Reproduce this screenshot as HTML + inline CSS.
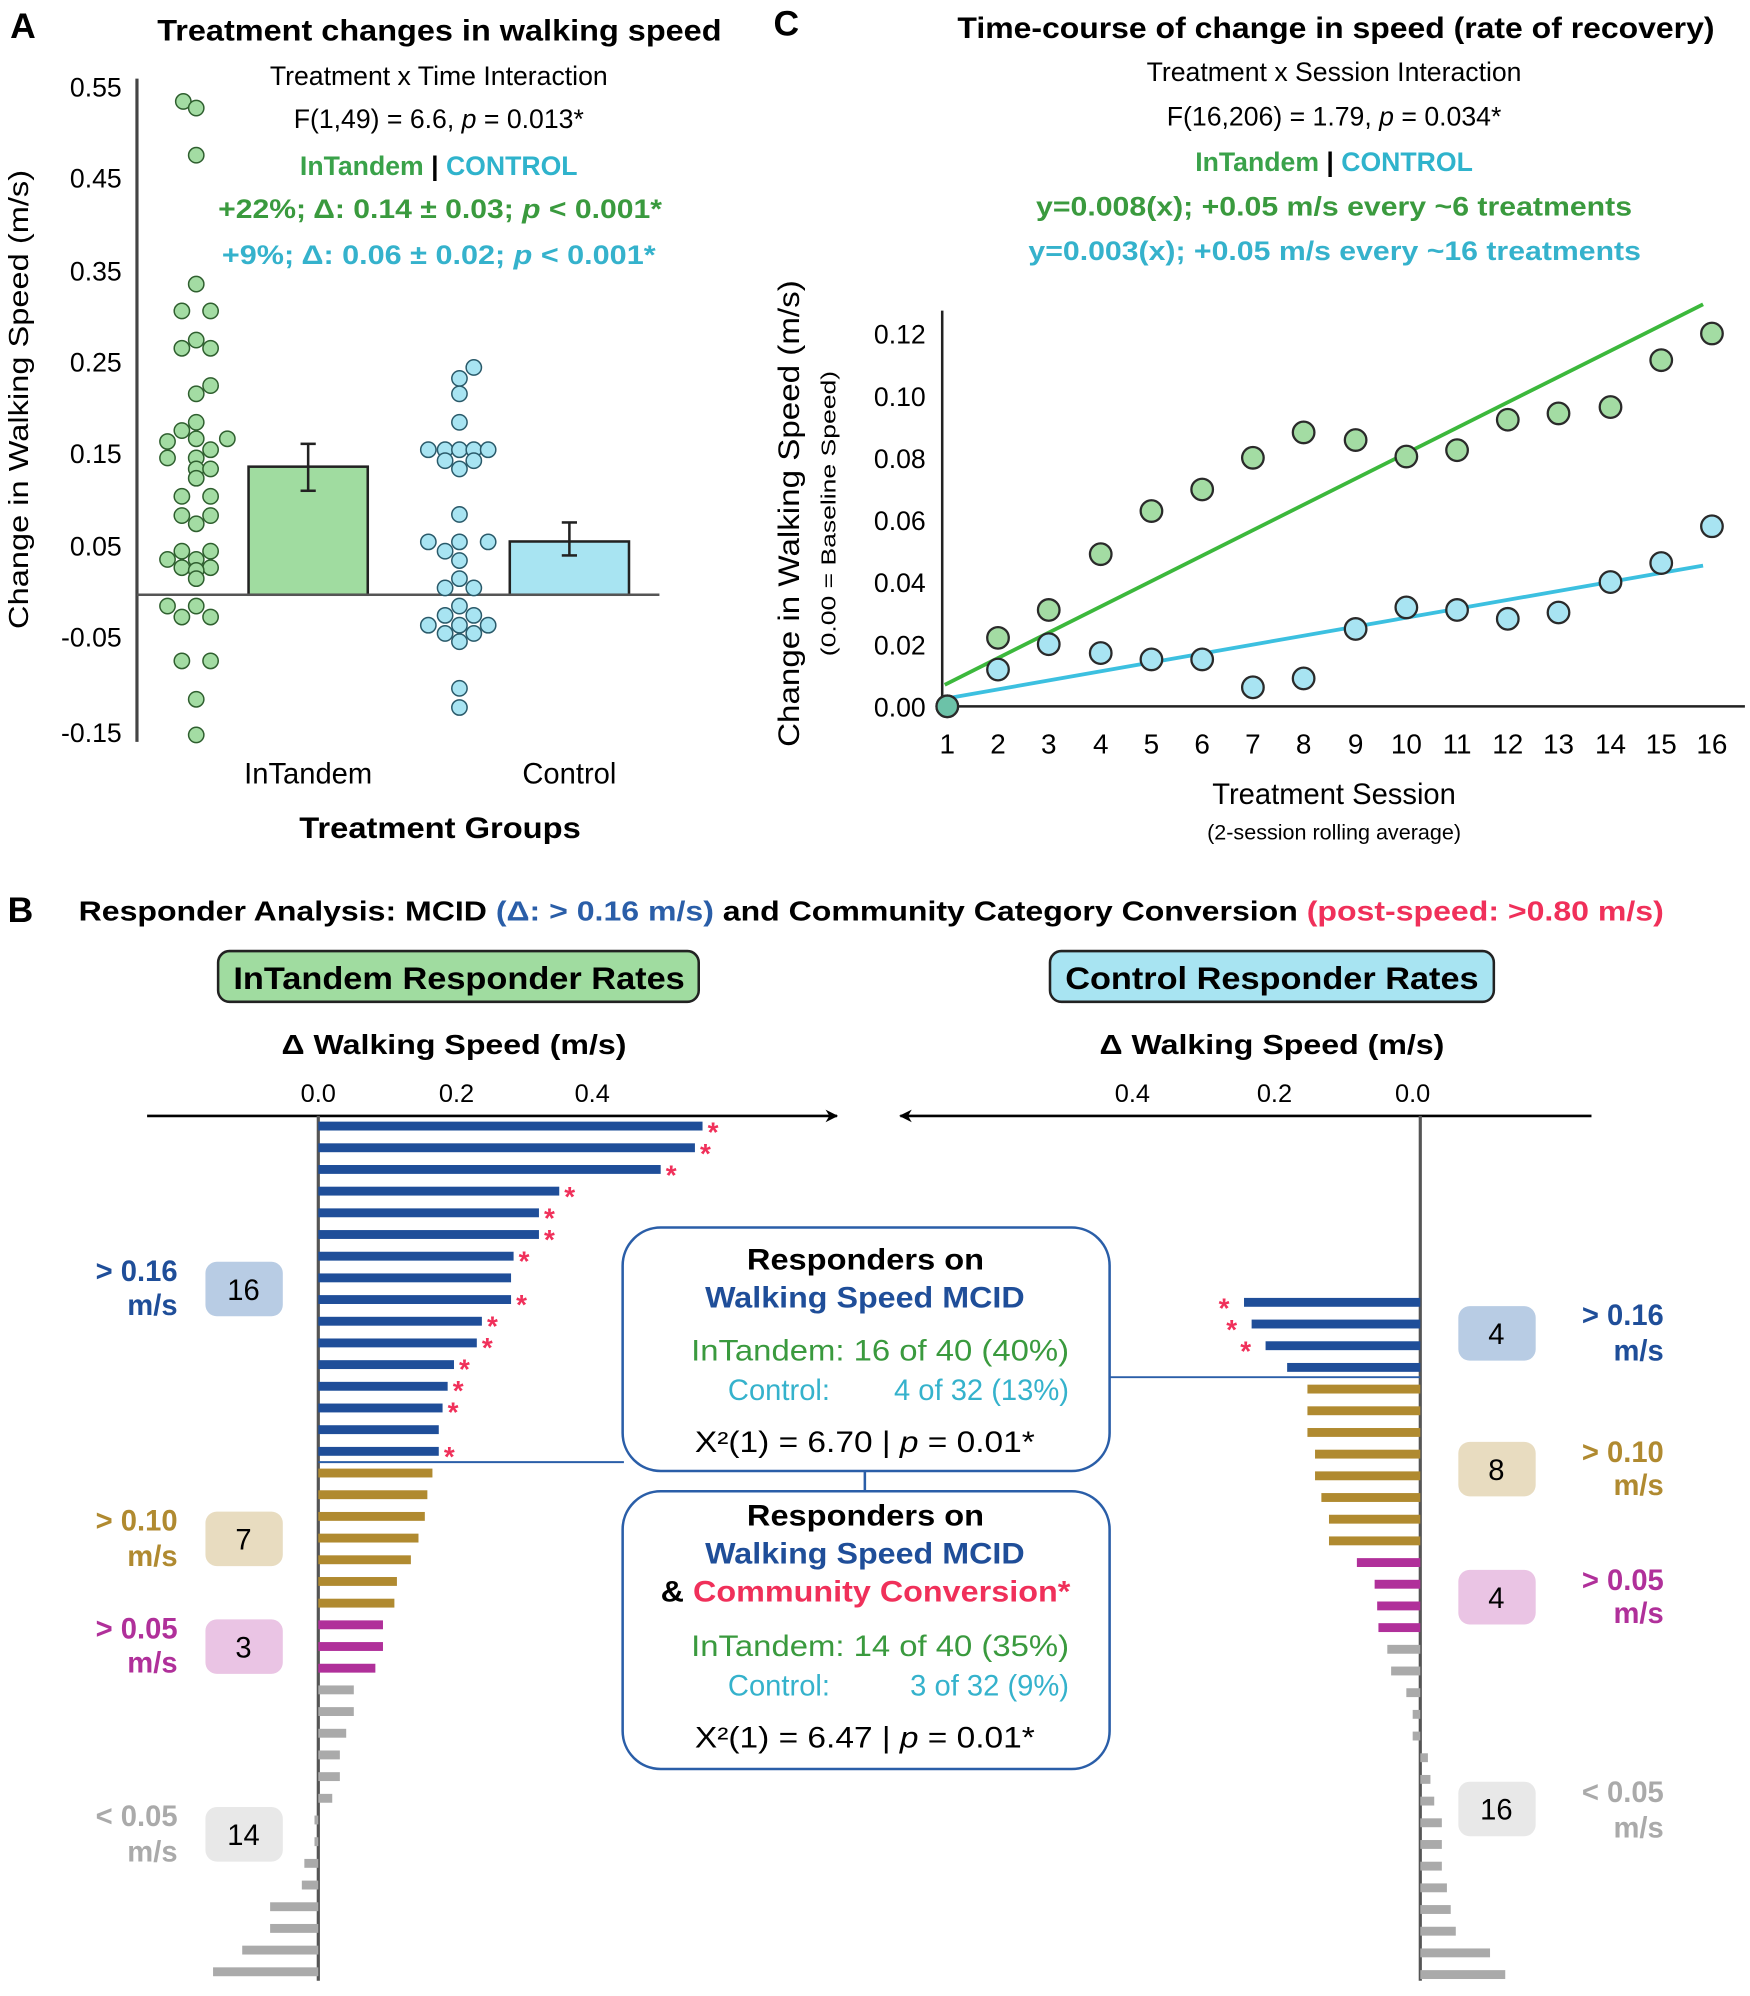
<!DOCTYPE html>
<html><head><meta charset="utf-8"><style>
html,body{margin:0;padding:0;background:#fff;}
svg{display:block;font-family:"Liberation Sans",sans-serif;}
</style></head><body>
<svg width="1750" height="1996" viewBox="0 0 1380 1574" xmlns="http://www.w3.org/2000/svg">
<defs>
<marker id="ah" viewBox="0 0 10 10" refX="9" refY="5" markerWidth="10" markerHeight="10" orient="auto" markerUnits="userSpaceOnUse"><path d="M0,0 L10,5 L0,10 L3,5 Z" fill="#000"/></marker>
</defs>
<!-- ================= PANEL A ================= -->
<text x="8" y="30" font-size="28" font-weight="bold">A</text>
<text x="124" y="32" font-size="23" font-weight="bold" textLength="445" lengthAdjust="spacingAndGlyphs">Treatment changes in walking speed</text>
<g font-size="21" text-anchor="middle">
<text x="346" y="67">Treatment x Time Interaction</text>
<text x="346" y="101">F(1,49) = 6.6, <tspan font-style="italic">p</tspan> = 0.013*</text>
<text x="346" y="138" font-weight="bold"><tspan fill="#3aa24a">InTandem</tspan> | <tspan fill="#2fb3cc">CONTROL</tspan></text>
</g>
<g font-size="21" font-weight="bold">
<text x="172" y="172" fill="#3a9a3e" textLength="350" lengthAdjust="spacingAndGlyphs">+22%; Δ: 0.14 ± 0.03; <tspan font-style="italic">p</tspan> &lt; 0.001*</text>
<text x="175" y="208" fill="#35b2cc" textLength="342" lengthAdjust="spacingAndGlyphs">+9%;  Δ: 0.06 ± 0.02; <tspan font-style="italic">p</tspan> &lt; 0.001*</text>
</g>
<g font-size="21" text-anchor="end">
<text x="96" y="76">0.55</text><text x="96" y="148">0.45</text><text x="96" y="221">0.35</text>
<text x="96" y="293">0.25</text><text x="96" y="365">0.15</text><text x="96" y="438">0.05</text>
<text x="96" y="510">-0.05</text><text x="96" y="585">-0.15</text>
</g>
<text transform="translate(22,315) rotate(-90)" font-size="22" text-anchor="middle" textLength="362" lengthAdjust="spacingAndGlyphs">Change in Walking Speed (m/s)</text>
<line x1="108" y1="62" x2="108" y2="585" stroke="#444" stroke-width="2.5"/>
<rect x="196" y="368" width="94" height="101" fill="#a0dca0" stroke="#222" stroke-width="2"/>
<rect x="402" y="427" width="94" height="42" fill="#a8e4f2" stroke="#222" stroke-width="2"/>
<g stroke="#222" stroke-width="2"><line x1="243" y1="350" x2="243" y2="387"/><line x1="237" y1="350" x2="249" y2="350"/><line x1="237" y1="387" x2="249" y2="387"/>
<line x1="449" y1="412" x2="449" y2="438"/><line x1="443" y1="412" x2="455" y2="412"/><line x1="443" y1="438" x2="455" y2="438"/></g>
<line x1="108" y1="469" x2="520" y2="469" stroke="#555" stroke-width="2"/>
<g transform="scale(0.3774,0.4325)" fill="#a3dca3" stroke="#2f5f2f">
<g stroke-width="1.5">
<ellipse cx="383" cy="185" rx="16" ry="14" vector-effect="non-scaling-stroke"/><ellipse cx="410" cy="197" rx="16" ry="14" vector-effect="non-scaling-stroke"/><ellipse cx="410" cy="283" rx="16" ry="14" vector-effect="non-scaling-stroke"/><ellipse cx="410" cy="518" rx="16" ry="14" vector-effect="non-scaling-stroke"/><ellipse cx="380" cy="567" rx="16" ry="14" vector-effect="non-scaling-stroke"/><ellipse cx="440" cy="567" rx="16" ry="14" vector-effect="non-scaling-stroke"/><ellipse cx="380" cy="635" rx="16" ry="14" vector-effect="non-scaling-stroke"/><ellipse cx="410" cy="620" rx="16" ry="14" vector-effect="non-scaling-stroke"/><ellipse cx="440" cy="635" rx="16" ry="14" vector-effect="non-scaling-stroke"/><ellipse cx="410" cy="718" rx="16" ry="14" vector-effect="non-scaling-stroke"/><ellipse cx="440" cy="703" rx="16" ry="14" vector-effect="non-scaling-stroke"/><ellipse cx="410" cy="770" rx="16" ry="14" vector-effect="non-scaling-stroke"/><ellipse cx="380" cy="785" rx="16" ry="14" vector-effect="non-scaling-stroke"/><ellipse cx="350" cy="805" rx="16" ry="14" vector-effect="non-scaling-stroke"/><ellipse cx="410" cy="800" rx="16" ry="14" vector-effect="non-scaling-stroke"/><ellipse cx="475" cy="800" rx="16" ry="14" vector-effect="non-scaling-stroke"/><ellipse cx="440" cy="820" rx="16" ry="14" vector-effect="non-scaling-stroke"/><ellipse cx="350" cy="835" rx="16" ry="14" vector-effect="non-scaling-stroke"/><ellipse cx="410" cy="835" rx="16" ry="14" vector-effect="non-scaling-stroke"/><ellipse cx="410" cy="855" rx="16" ry="14" vector-effect="non-scaling-stroke"/><ellipse cx="440" cy="855" rx="16" ry="14" vector-effect="non-scaling-stroke"/><ellipse cx="410" cy="872" rx="16" ry="14" vector-effect="non-scaling-stroke"/><ellipse cx="380" cy="905" rx="16" ry="14" vector-effect="non-scaling-stroke"/><ellipse cx="440" cy="905" rx="16" ry="14" vector-effect="non-scaling-stroke"/><ellipse cx="380" cy="940" rx="16" ry="14" vector-effect="non-scaling-stroke"/><ellipse cx="440" cy="940" rx="16" ry="14" vector-effect="non-scaling-stroke"/><ellipse cx="410" cy="955" rx="16" ry="14" vector-effect="non-scaling-stroke"/><ellipse cx="380" cy="1005" rx="16" ry="14" vector-effect="non-scaling-stroke"/><ellipse cx="440" cy="1005" rx="16" ry="14" vector-effect="non-scaling-stroke"/><ellipse cx="350" cy="1020" rx="16" ry="14" vector-effect="non-scaling-stroke"/><ellipse cx="410" cy="1020" rx="16" ry="14" vector-effect="non-scaling-stroke"/><ellipse cx="380" cy="1035" rx="16" ry="14" vector-effect="non-scaling-stroke"/><ellipse cx="440" cy="1035" rx="16" ry="14" vector-effect="non-scaling-stroke"/><ellipse cx="410" cy="1040" rx="16" ry="14" vector-effect="non-scaling-stroke"/><ellipse cx="410" cy="1055" rx="16" ry="14" vector-effect="non-scaling-stroke"/><ellipse cx="350" cy="1105" rx="16" ry="14" vector-effect="non-scaling-stroke"/><ellipse cx="410" cy="1105" rx="16" ry="14" vector-effect="non-scaling-stroke"/><ellipse cx="380" cy="1125" rx="16" ry="14" vector-effect="non-scaling-stroke"/><ellipse cx="440" cy="1125" rx="16" ry="14" vector-effect="non-scaling-stroke"/><ellipse cx="380" cy="1205" rx="16" ry="14" vector-effect="non-scaling-stroke"/><ellipse cx="440" cy="1205" rx="16" ry="14" vector-effect="non-scaling-stroke"/><ellipse cx="410" cy="1275" rx="16" ry="14" vector-effect="non-scaling-stroke"/><ellipse cx="410" cy="1340" rx="16" ry="14" vector-effect="non-scaling-stroke"/>
</g>
<g fill="#a8e4f2" stroke="#2a5a6a" stroke-width="1.5">
<ellipse cx="990" cy="670" rx="16" ry="14" vector-effect="non-scaling-stroke"/><ellipse cx="960" cy="690" rx="16" ry="14" vector-effect="non-scaling-stroke"/><ellipse cx="960" cy="718" rx="16" ry="14" vector-effect="non-scaling-stroke"/><ellipse cx="960" cy="770" rx="16" ry="14" vector-effect="non-scaling-stroke"/><ellipse cx="895" cy="820" rx="16" ry="14" vector-effect="non-scaling-stroke"/><ellipse cx="930" cy="820" rx="16" ry="14" vector-effect="non-scaling-stroke"/><ellipse cx="960" cy="820" rx="16" ry="14" vector-effect="non-scaling-stroke"/><ellipse cx="990" cy="820" rx="16" ry="14" vector-effect="non-scaling-stroke"/><ellipse cx="1020" cy="820" rx="16" ry="14" vector-effect="non-scaling-stroke"/><ellipse cx="930" cy="840" rx="16" ry="14" vector-effect="non-scaling-stroke"/><ellipse cx="960" cy="855" rx="16" ry="14" vector-effect="non-scaling-stroke"/><ellipse cx="990" cy="840" rx="16" ry="14" vector-effect="non-scaling-stroke"/><ellipse cx="960" cy="938" rx="16" ry="14" vector-effect="non-scaling-stroke"/><ellipse cx="895" cy="988" rx="16" ry="14" vector-effect="non-scaling-stroke"/><ellipse cx="930" cy="1005" rx="16" ry="14" vector-effect="non-scaling-stroke"/><ellipse cx="960" cy="988" rx="16" ry="14" vector-effect="non-scaling-stroke"/><ellipse cx="1020" cy="988" rx="16" ry="14" vector-effect="non-scaling-stroke"/><ellipse cx="960" cy="1022" rx="16" ry="14" vector-effect="non-scaling-stroke"/><ellipse cx="960" cy="1055" rx="16" ry="14" vector-effect="non-scaling-stroke"/><ellipse cx="930" cy="1072" rx="16" ry="14" vector-effect="non-scaling-stroke"/><ellipse cx="990" cy="1072" rx="16" ry="14" vector-effect="non-scaling-stroke"/><ellipse cx="960" cy="1105" rx="16" ry="14" vector-effect="non-scaling-stroke"/><ellipse cx="930" cy="1122" rx="16" ry="14" vector-effect="non-scaling-stroke"/><ellipse cx="990" cy="1122" rx="16" ry="14" vector-effect="non-scaling-stroke"/><ellipse cx="895" cy="1140" rx="16" ry="14" vector-effect="non-scaling-stroke"/><ellipse cx="960" cy="1140" rx="16" ry="14" vector-effect="non-scaling-stroke"/><ellipse cx="1020" cy="1140" rx="16" ry="14" vector-effect="non-scaling-stroke"/><ellipse cx="930" cy="1155" rx="16" ry="14" vector-effect="non-scaling-stroke"/><ellipse cx="990" cy="1155" rx="16" ry="14" vector-effect="non-scaling-stroke"/><ellipse cx="960" cy="1170" rx="16" ry="14" vector-effect="non-scaling-stroke"/><ellipse cx="960" cy="1255" rx="16" ry="14" vector-effect="non-scaling-stroke"/><ellipse cx="960" cy="1290" rx="16" ry="14" vector-effect="non-scaling-stroke"/>
</g>
</g>
<text x="243" y="618" font-size="23" text-anchor="middle">InTandem</text>
<text x="449" y="618" font-size="23" text-anchor="middle">Control</text>
<text x="236" y="661" font-size="23" font-weight="bold" textLength="222" lengthAdjust="spacingAndGlyphs">Treatment Groups</text>

<!-- ================= PANEL C ================= -->
<text x="610" y="28" font-size="28" font-weight="bold">C</text>
<text x="755" y="30" font-size="23" font-weight="bold" textLength="597" lengthAdjust="spacingAndGlyphs">Time-course of change in speed (rate of recovery)</text>
<g font-size="21" text-anchor="middle">
<text x="1052" y="64">Treatment x Session Interaction</text>
<text x="1052" y="99">F(16,206) = 1.79, <tspan font-style="italic">p</tspan> = 0.034*</text>
<text x="1052" y="135" font-weight="bold"><tspan fill="#3aa24a">InTandem</tspan> | <tspan fill="#2fb3cc">CONTROL</tspan></text>
</g>
<g font-size="21" font-weight="bold">
<text x="817" y="170" fill="#3a9a3e" textLength="470" lengthAdjust="spacingAndGlyphs">y=0.008(x); +0.05 m/s every ~6 treatments</text>
<text x="811" y="205" fill="#35b2cc" textLength="483" lengthAdjust="spacingAndGlyphs">y=0.003(x); +0.05 m/s every ~16 treatments</text>
</g>
<g font-size="21" text-anchor="end">
<text x="730" y="271">0.12</text><text x="730" y="320">0.10</text><text x="730" y="369">0.08</text>
<text x="730" y="418">0.06</text><text x="730" y="467">0.04</text><text x="730" y="516">0.02</text><text x="730" y="565">0.00</text>
</g>
<text transform="translate(630,405) rotate(-90)" font-size="23" text-anchor="middle" textLength="368" lengthAdjust="spacingAndGlyphs">Change in Walking Speed (m/s)</text>
<text transform="translate(659,405) rotate(-90)" font-size="16" text-anchor="middle" textLength="225" lengthAdjust="spacingAndGlyphs">(0.00 = Baseline Speed)</text>
<line x1="743" y1="245" x2="743" y2="558" stroke="#222" stroke-width="2"/>
<line x1="743" y1="557" x2="1376" y2="557" stroke="#222" stroke-width="2"/>
<g font-size="22" text-anchor="middle">
<text x="747" y="594">1</text><text x="787" y="594">2</text><text x="827" y="594">3</text><text x="868" y="594">4</text><text x="908" y="594">5</text><text x="948" y="594">6</text><text x="988" y="594">7</text><text x="1028" y="594">8</text><text x="1069" y="594">9</text><text x="1109" y="594">10</text><text x="1149" y="594">11</text><text x="1189" y="594">12</text><text x="1229" y="594">13</text><text x="1270" y="594">14</text><text x="1310" y="594">15</text><text x="1350" y="594">16</text>
</g>
<text x="1052" y="634" font-size="23" text-anchor="middle">Treatment Session</text>
<text x="1052" y="662" font-size="17" text-anchor="middle">(2-session rolling average)</text>
<line x1="745" y1="540" x2="1343" y2="240" stroke="#3cb83c" stroke-width="3"/>
<line x1="745" y1="551" x2="1343" y2="446" stroke="#3cc0e0" stroke-width="3"/>
<g fill="#a3dca3" stroke="#2a2a2a" stroke-width="1.8">
<circle cx="747" cy="557" r="8.5"/><circle cx="787" cy="503" r="8.5"/><circle cx="827" cy="481" r="8.5"/><circle cx="868" cy="437" r="8.5"/><circle cx="908" cy="403" r="8.5"/><circle cx="948" cy="386" r="8.5"/><circle cx="988" cy="361" r="8.5"/><circle cx="1028" cy="341" r="8.5"/><circle cx="1069" cy="347" r="8.5"/><circle cx="1109" cy="360" r="8.5"/><circle cx="1149" cy="355" r="8.5"/><circle cx="1189" cy="331" r="8.5"/><circle cx="1229" cy="326" r="8.5"/><circle cx="1270" cy="321" r="8.5"/><circle cx="1310" cy="284" r="8.5"/><circle cx="1350" cy="263" r="8.5"/>
</g>
<g fill="#a8e4f2" stroke="#2a2a2a" stroke-width="1.8">
<circle cx="787" cy="528" r="8.5"/><circle cx="827" cy="508" r="8.5"/><circle cx="868" cy="515" r="8.5"/><circle cx="908" cy="520" r="8.5"/><circle cx="948" cy="520" r="8.5"/><circle cx="988" cy="542" r="8.5"/><circle cx="1028" cy="535" r="8.5"/><circle cx="1069" cy="496" r="8.5"/><circle cx="1109" cy="479" r="8.5"/><circle cx="1149" cy="481" r="8.5"/><circle cx="1189" cy="488" r="8.5"/><circle cx="1229" cy="483" r="8.5"/><circle cx="1270" cy="459" r="8.5"/><circle cx="1310" cy="444" r="8.5"/><circle cx="1350" cy="415" r="8.5"/>
</g>
<circle cx="747" cy="557" r="8.5" fill="#6cc2a8" stroke="#2a2a2a" stroke-width="1.8"/>

<!-- ================= PANEL B ================= -->
<text x="6" y="727" font-size="28" font-weight="bold">B</text>
<text x="62" y="726" font-size="22" font-weight="bold" textLength="1250" lengthAdjust="spacingAndGlyphs">Responder Analysis: MCID <tspan fill="#2a5ea8">(Δ: &gt; 0.16 m/s)</tspan> and Community Category Conversion <tspan fill="#f0305a">(post-speed: &gt;0.80 m/s)</tspan></text>
<rect x="172" y="750" width="379" height="40" rx="9" fill="#a0dca0" stroke="#222" stroke-width="2"/>
<text x="184" y="780" font-size="25" font-weight="bold" textLength="356" lengthAdjust="spacingAndGlyphs">InTandem Responder Rates</text>
<rect x="828" y="750" width="350" height="40" rx="9" fill="#a8e4f2" stroke="#222" stroke-width="2"/>
<text x="840" y="780" font-size="25" font-weight="bold" textLength="326" lengthAdjust="spacingAndGlyphs">Control Responder Rates</text>
<text x="222" y="831" font-size="22" font-weight="bold" textLength="272" lengthAdjust="spacingAndGlyphs">Δ Walking Speed (m/s)</text>
<text x="867" y="831" font-size="22" font-weight="bold" textLength="272" lengthAdjust="spacingAndGlyphs">Δ Walking Speed (m/s)</text>
<g font-size="20" text-anchor="middle">
<text x="251" y="869">0.0</text><text x="360" y="869">0.2</text><text x="467" y="869">0.4</text>
<text x="893" y="869">0.4</text><text x="1005" y="869">0.2</text><text x="1114" y="869">0.0</text>
</g>
<line x1="116" y1="880" x2="660" y2="880" stroke="#000" stroke-width="2" marker-end="url(#ah)"/>
<line x1="1255" y1="880" x2="710" y2="880" stroke="#000" stroke-width="2" marker-end="url(#ah)"/>
<line x1="251" y1="880" x2="251" y2="1562" stroke="#555" stroke-width="2.5"/>
<line x1="1120" y1="880" x2="1120" y2="1562" stroke="#555" stroke-width="2.5"/>
<!-- left bars -->
<g fill="#1f4e99">
<rect x="251" y="884.5" width="303" height="7"/><rect x="251" y="901.6" width="297" height="7"/><rect x="251" y="918.7" width="270" height="7"/><rect x="251" y="935.8" width="190" height="7"/><rect x="251" y="952.9" width="174" height="7"/><rect x="251" y="970" width="174" height="7"/><rect x="251" y="987.1" width="154" height="7"/><rect x="251" y="1004.2" width="152" height="7"/><rect x="251" y="1021.3" width="152" height="7"/><rect x="251" y="1038.4" width="129" height="7"/><rect x="251" y="1055.5" width="125" height="7"/><rect x="251" y="1072.6" width="107" height="7"/><rect x="251" y="1089.7" width="102" height="7"/><rect x="251" y="1106.8" width="98" height="7"/><rect x="251" y="1123.9" width="95" height="7"/><rect x="251" y="1141" width="95" height="7"/>
</g>
<g fill="#b08a30">
<rect x="251" y="1158.1" width="90" height="7"/><rect x="251" y="1175.2" width="86" height="7"/><rect x="251" y="1192.3" width="84" height="7"/><rect x="251" y="1209.4" width="79" height="7"/><rect x="251" y="1226.5" width="73" height="7"/><rect x="251" y="1243.6" width="62" height="7"/><rect x="251" y="1260.7" width="60" height="7"/>
</g>
<g fill="#b0309a">
<rect x="251" y="1277.8" width="51" height="7"/><rect x="251" y="1294.9" width="51" height="7"/><rect x="251" y="1312" width="45" height="7"/>
</g>
<g fill="#aaaaaa">
<rect x="251" y="1329.1" width="28" height="7"/><rect x="251" y="1346.2" width="28" height="7"/><rect x="251" y="1363.3" width="22" height="7"/><rect x="251" y="1380.4" width="17" height="7"/><rect x="251" y="1397.5" width="17" height="7"/><rect x="251" y="1414.6" width="11" height="7"/>
<rect x="248" y="1431.7" width="3" height="7"/><rect x="248" y="1448.8" width="3" height="7"/><rect x="240" y="1465.9" width="11" height="7"/><rect x="238" y="1483" width="13" height="7"/><rect x="213" y="1500.1" width="38" height="7"/><rect x="213" y="1517.2" width="38" height="7"/><rect x="191" y="1534.3" width="60" height="7"/><rect x="168" y="1551.4" width="83" height="7"/>
</g>
<g fill="#f0305a" font-size="22" font-weight="bold">
<text x="558" y="900">*</text><text x="552" y="917">*</text><text x="525" y="934">*</text><text x="445" y="951">*</text><text x="429" y="968">*</text><text x="429" y="985">*</text><text x="409" y="1002">*</text><text x="407" y="1036">*</text><text x="384" y="1053">*</text><text x="380" y="1070">*</text><text x="362" y="1087">*</text><text x="357" y="1104">*</text><text x="353" y="1121">*</text><text x="350" y="1156">*</text>
<text x="961" y="1039">*</text><text x="967" y="1056">*</text><text x="978" y="1073">*</text>
</g>
<!-- right bars -->
<g fill="#1f4e99">
<rect x="981" y="1023.5" width="139" height="7"/><rect x="987" y="1040.6" width="133" height="7"/><rect x="998" y="1057.7" width="122" height="7"/><rect x="1015" y="1074.8" width="105" height="7"/>
</g>
<g fill="#b08a30">
<rect x="1031" y="1091.9" width="89" height="7"/><rect x="1031" y="1109" width="89" height="7"/><rect x="1031" y="1126.1" width="89" height="7"/><rect x="1037" y="1143.2" width="83" height="7"/><rect x="1037" y="1160.3" width="83" height="7"/><rect x="1042" y="1177.4" width="78" height="7"/><rect x="1048" y="1194.5" width="72" height="7"/><rect x="1048" y="1211.6" width="72" height="7"/>
</g>
<g fill="#b0309a">
<rect x="1070" y="1228.7" width="50" height="7"/><rect x="1084" y="1245.8" width="36" height="7"/><rect x="1086" y="1262.9" width="34" height="7"/><rect x="1087" y="1280" width="33" height="7"/>
</g>
<g fill="#aaaaaa">
<rect x="1094" y="1297.1" width="26" height="7"/><rect x="1097" y="1314.2" width="23" height="7"/><rect x="1109" y="1331.3" width="11" height="7"/><rect x="1114" y="1348.4" width="6" height="7"/><rect x="1114" y="1365.5" width="6" height="7"/>
<rect x="1120" y="1382.6" width="6" height="7"/><rect x="1120" y="1399.7" width="8" height="7"/><rect x="1120" y="1416.8" width="11" height="7"/><rect x="1120" y="1433.9" width="17" height="7"/><rect x="1120" y="1451" width="17" height="7"/><rect x="1120" y="1468.1" width="17" height="7"/><rect x="1120" y="1485.2" width="21" height="7"/><rect x="1120" y="1502.3" width="24" height="7"/><rect x="1120" y="1519.4" width="28" height="7"/><rect x="1120" y="1536.5" width="55" height="7"/><rect x="1120" y="1553.6" width="67" height="7"/>
</g>
<!-- category labels -->
<g font-size="23" font-weight="bold" text-anchor="end">
<text x="140" y="1010" fill="#1f4e99">&gt; 0.16</text><text x="140" y="1037" fill="#1f4e99">m/s</text>
<text x="140" y="1207" fill="#b08a30">&gt; 0.10</text><text x="140" y="1235" fill="#b08a30">m/s</text>
<text x="140" y="1292" fill="#b0309a">&gt; 0.05</text><text x="140" y="1319" fill="#b0309a">m/s</text>
<text x="140" y="1440" fill="#aaaaaa">&lt; 0.05</text><text x="140" y="1468" fill="#aaaaaa">m/s</text>
<text x="1312" y="1045" fill="#1f4e99">&gt; 0.16</text><text x="1312" y="1073" fill="#1f4e99">m/s</text>
<text x="1312" y="1153" fill="#b08a30">&gt; 0.10</text><text x="1312" y="1179" fill="#b08a30">m/s</text>
<text x="1312" y="1254" fill="#b0309a">&gt; 0.05</text><text x="1312" y="1280" fill="#b0309a">m/s</text>
<text x="1312" y="1421" fill="#aaaaaa">&lt; 0.05</text><text x="1312" y="1449" fill="#aaaaaa">m/s</text>
</g>
<rect x="162" y="995" width="61" height="43" rx="9" fill="#b8cce4"/>
<rect x="162" y="1192" width="61" height="43" rx="9" fill="#e8dcc0"/>
<rect x="162" y="1277" width="61" height="43" rx="9" fill="#eac4e4"/>
<rect x="162" y="1425" width="61" height="43" rx="9" fill="#e8e8e8"/>
<rect x="1150" y="1030" width="61" height="43" rx="9" fill="#b8cce4"/>
<rect x="1150" y="1137" width="61" height="43" rx="9" fill="#e8dcc0"/>
<rect x="1150" y="1238" width="61" height="43" rx="9" fill="#eac4e4"/>
<rect x="1150" y="1405" width="61" height="43" rx="9" fill="#e8e8e8"/>
<g font-size="23" text-anchor="middle">
<text x="192" y="1025">16</text><text x="192" y="1222">7</text><text x="192" y="1307">3</text><text x="192" y="1455">14</text>
<text x="1180" y="1060">4</text><text x="1180" y="1167">8</text><text x="1180" y="1268">4</text><text x="1180" y="1435">16</text>
</g>
<!-- center boxes -->
<line x1="251" y1="1153" x2="492" y2="1153" stroke="#2a5ea8" stroke-width="1.5"/>
<line x1="875" y1="1086" x2="1120" y2="1086" stroke="#2a5ea8" stroke-width="1.5"/>
<line x1="682" y1="1160" x2="682" y2="1176" stroke="#2a5ea8" stroke-width="2"/>
<rect x="491" y="968" width="384" height="192" rx="30" fill="#fff" stroke="#2a5ea8" stroke-width="2"/>
<rect x="491" y="1176" width="384" height="219" rx="30" fill="#fff" stroke="#2a5ea8" stroke-width="2"/>
<g font-size="23">
<text x="589" y="1001" font-weight="bold" textLength="187" lengthAdjust="spacingAndGlyphs">Responders on</text>
<text x="556" y="1031" font-weight="bold" fill="#1f4e99" textLength="252" lengthAdjust="spacingAndGlyphs">Walking Speed MCID</text>
<text x="545" y="1073" fill="#3a9a3e" textLength="298" lengthAdjust="spacingAndGlyphs">InTandem: 16 of 40 (40%)</text>
<text x="574" y="1104" fill="#35b2cc">Control:</text>
<text x="843" y="1104" fill="#35b2cc" text-anchor="end">4 of 32 (13%)</text>
<text x="548" y="1145" textLength="268" lengthAdjust="spacingAndGlyphs">X²(1) = 6.70  |  <tspan font-style="italic">p</tspan> = 0.01*</text>
<text x="589" y="1203" font-weight="bold" textLength="187" lengthAdjust="spacingAndGlyphs">Responders on</text>
<text x="556" y="1233" font-weight="bold" fill="#1f4e99" textLength="252" lengthAdjust="spacingAndGlyphs">Walking Speed MCID</text>
<text x="521" y="1263" font-weight="bold" textLength="323" lengthAdjust="spacingAndGlyphs">&amp; <tspan fill="#f0305a">Community Conversion*</tspan></text>
<text x="545" y="1306" fill="#3a9a3e" textLength="298" lengthAdjust="spacingAndGlyphs">InTandem: 14 of 40 (35%)</text>
<text x="574" y="1337" fill="#35b2cc">Control:</text>
<text x="843" y="1337" fill="#35b2cc" text-anchor="end">3 of 32 (9%)</text>
<text x="548" y="1378" textLength="268" lengthAdjust="spacingAndGlyphs">X²(1) = 6.47  |  <tspan font-style="italic">p</tspan> = 0.01*</text>
</g>
</svg>
</body></html>
